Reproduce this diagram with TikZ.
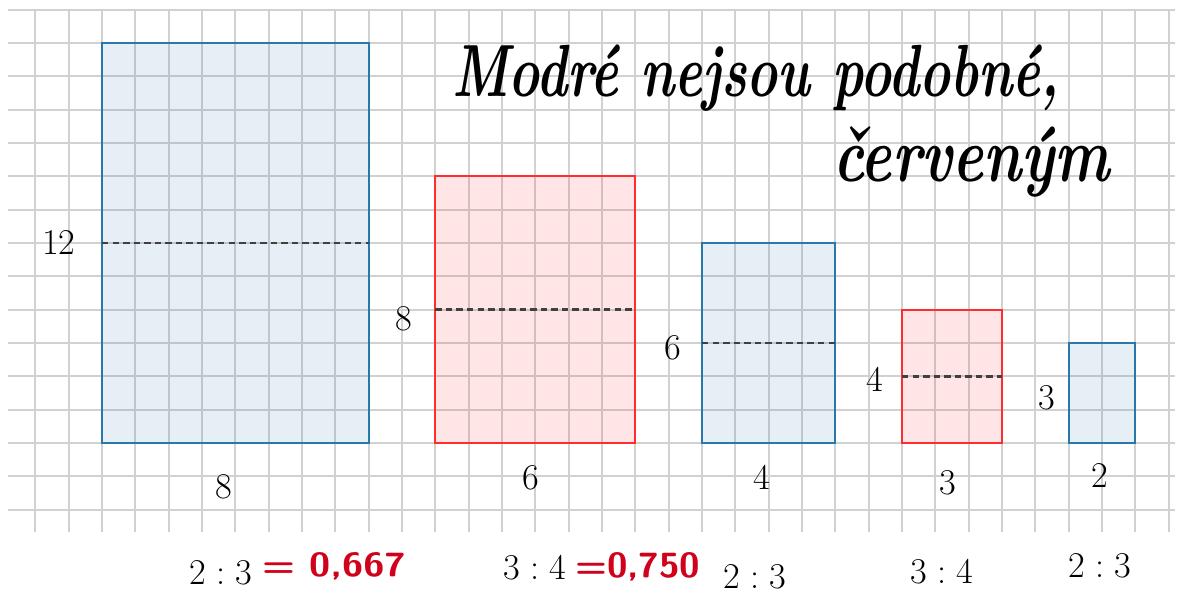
\documentclass[tikz,border=0pt]{standalone}
\usepackage{graphicx}
\definecolor{bl}{RGB}{40,120,172}
\definecolor{rd}{RGB}{255,45,45}
\definecolor{hand}{RGB}{208,2,27}
\newcommand\myratio[2]{#1\hspace{0.28em}:\hspace{0.28em}#2}
\tikzset{
  gridline/.style={gray!36, line width=1.5pt},
  bluerect/.style={draw=bl, line width=1.8pt, fill=bl, fill opacity=0.12},
  redrect/.style={draw=rd, line width=1.8pt, fill=rd, fill opacity=0.12},
  midline/.style={draw=black!75, line width=2.5pt, dash pattern=on 5.5pt off 3.5pt},
  lab/.style={font=\fontsize{31}{37}\selectfont, inner sep=0pt},
  handtext/.style={anchor=base west, inner sep=0pt},
}
\begin{document}
\begin{tikzpicture}[x=1cm,y=1cm]
\useasboundingbox (-3.06,-4.56) rectangle (32.31,13.29);
% grid
\foreach \y in {-2,...,13} \draw[gridline] (-2.82,\y) -- (32.2,\y);
\foreach \x in {-2,...,32} \draw[gridline] (\x,-2.67) -- (\x,13);
% rectangles
\draw[bluerect] (0,0) rectangle (8,12);
\draw[midline] (0,6) -- (8,6);
\draw[redrect] (10,0) rectangle (16,8);
\draw[midline] (10,4) -- (16,4);
\draw[bluerect] (18,0) rectangle (22,6);
\draw[midline] (18,3) -- (22,3);
\draw[redrect] (24,0) rectangle (27,4);
\draw[midline] (24,2) -- (27,2);
\draw[bluerect] (29,0) rectangle (31,3);
% side labels
\node[lab] (h1) at (-1.29,6.0) {12};
\node[lab] (w1) at (3.65,-1.3) {8};
\node[lab] (h2) at (9.06,3.72) {8};
\node[lab] (w2) at (12.87,-1.05) {6};
\node[lab] (h3) at (17.13,2.85) {6};
\node[lab] (w3) at (19.8,-1.02) {4};
\node[lab] (h4) at (23.18,1.92) {4};
\node[lab] (w4) at (25.38,-1.2) {3};
\node[lab] (h5) at (28.35,1.35) {3};
\node[lab] (w5) at (29.93,-0.98) {2};
% ratios
\node[lab] (r1) at (3.57,-3.89) {\myratio{2}{3}};
\node[lab] (r2) at (12.99,-3.75) {\myratio{3}{4}};
\node[lab] (r3) at (19.59,-4.0) {\myratio{2}{3}};
\node[lab] (r4) at (25.2,-3.87) {\myratio{3}{4}};
\node[lab] (r5) at (29.93,-3.68) {\myratio{2}{3}};
% red handwritten values
\node[handtext, text=hand] (v1) at (4.8,-4.02) {\resizebox{4.3cm}{0.72cm}{\sffamily\bfseries = 0,667}};
\node[handtext, text=hand] (v2) at (14.19,-4.05) {\resizebox{3.75cm}{0.75cm}{\sffamily\bfseries =0,750}};
% black handwritten note
\node[handtext] (n1) at (10.5,10.38) {\resizebox{18.2cm}{1.55cm}{\bfseries\itshape Modré nejsou podobné,}};
\node[handtext] (n2) at (21.93,7.83) {\resizebox{8.3cm}{1.65cm}{\bfseries\itshape červeným}};
\end{tikzpicture}
\end{document}
